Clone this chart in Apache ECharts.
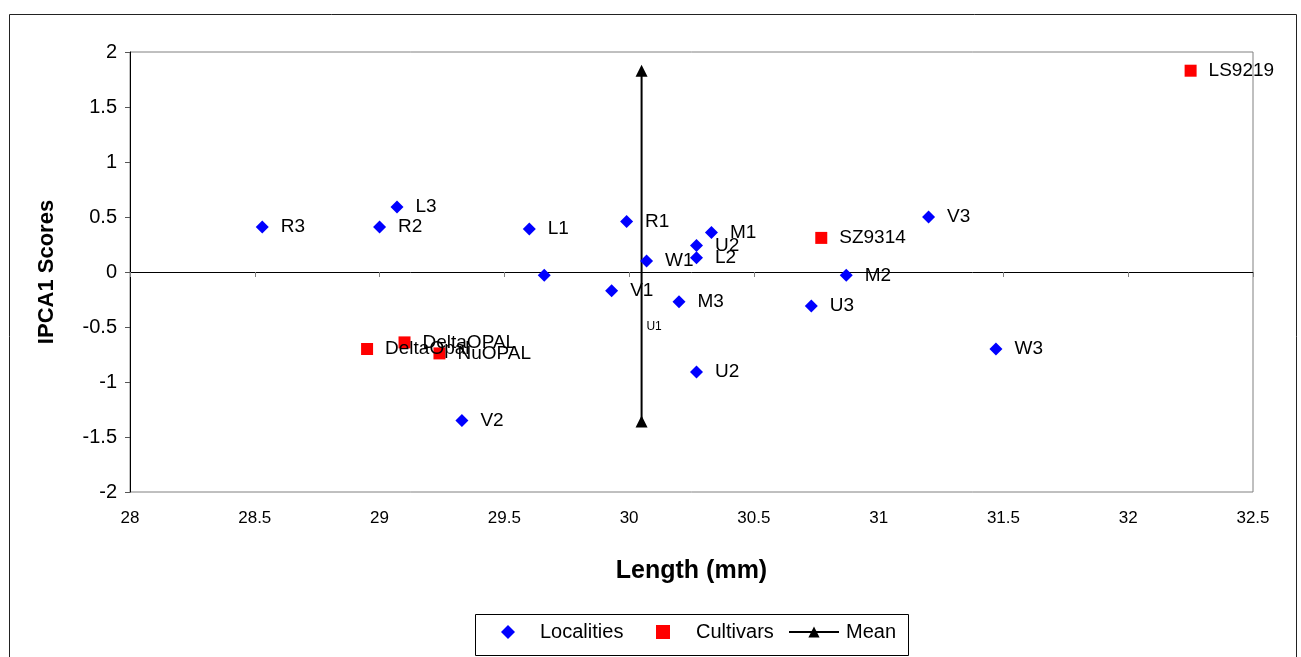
<!DOCTYPE html>
<html>
<head>
<meta charset="utf-8">
<title>IPCA1 Scores vs Length</title>
<script src="https://cdn.jsdelivr.net/npm/echarts@6/dist/echarts.min.js"></script>
<style>
  html, body { margin: 0; padding: 0; background: #fff; }
  #main { width: 1301px; height: 657px; }
</style>
</head>
<body>
<div id="main"></div>
<script>
// localities (blue diamonds)
const locNames = ['R3', 'R2', 'L3', 'L1', '', 'R1', 'V1', 'W1', 'U2', 'L2', 'M1', 'M3', 'U2', 'V2', 'U3', 'M2', 'V3', 'W3'];
const locX = [28.53, 29.00, 29.07, 29.60, 29.66, 29.99, 29.93, 30.07, 30.27, 30.27, 30.33, 30.20, 30.27, 29.33, 30.73, 30.87, 31.20, 31.47];
const locY = [0.41, 0.41, 0.59, 0.39, -0.03, 0.46, -0.17, 0.10, 0.24, 0.13, 0.36, -0.27, -0.91, -1.35, -0.31, -0.03, 0.50, -0.70];

// cultivars (red squares)
const cultNames = ['LS9219', 'SZ9314', 'DeltaOpal', 'DeltaOPAL', 'NuOPAL'];
const cultX = [32.25, 30.77, 28.95, 29.10, 29.24];
const cultY = [1.83, 0.31, -0.70, -0.64, -0.74];

// mean line
const meanX = [30.05, 30.05];
const meanY = [1.83, -1.36];

// stray label
const noteNames = ['U1'];
const noteX = [30.10];
const noteY = [-0.50];

const xTicks = { min: 28, max: 32.5, interval: 0.5 };
const yTicks = { min: -2, max: 2, interval: 0.5 };

const FONT = 'Liberation Sans';

function points(names, xs, ys) {
  return xs.map((x, i) => ({ name: names[i], value: [x, ys[i]] }));
}

const chart = echarts.init(document.getElementById('main'));

const labelStyle = {
  show: true,
  position: 'right',
  distance: 12,
  formatter: '{b}',
  color: '#000',
  fontFamily: FONT,
  fontSize: 19
};

// one legend per entry so each icon keeps its own width
function legendItem(name, left, iconW, textPad) {
  return {
    left: left,
    top: 622,
    padding: 0,
    itemWidth: iconW,
    itemHeight: 14,
    textStyle: { color: '#000', fontFamily: FONT, fontSize: 20, padding: [0, 0, 0, textPad] },
    data: [name]
  };
}

const option = {
  animation: false,
  backgroundColor: '#fff',
  graphic: [
    {
      type: 'rect',
      left: 7,
      top: 12,
      shape: { width: 1287, height: 700 },
      style: { fill: 'none', stroke: '#222', lineWidth: 1 },
      z: -1
    },
    {
      type: 'rect',
      left: 475,
      top: 614,
      shape: { width: 433, height: 41 },
      style: { fill: '#fff', stroke: '#000', lineWidth: 1 },
      z: -1
    }
  ],
  grid: {
    left: 130,
    top: 52,
    right: 48,
    bottom: 165,
    show: true,
    borderColor: '#808080',
    borderWidth: 1,
    backgroundColor: '#fff'
  },
  legend: [
    legendItem('Localities', 501, 14, 20),
    legendItem('Cultivars', 656, 14, 21),
    legendItem('Mean', 788, 50, 2)
  ],
  xAxis: [
    {
      type: 'value',
      min: xTicks.min,
      max: xTicks.max,
      interval: xTicks.interval,
      position: 'bottom',
      axisLine: { show: false, onZero: false },
      axisTick: { show: false },
      splitLine: { show: false },
      axisLabel: { color: '#000', fontFamily: FONT, fontSize: 17, margin: 18 },
      name: 'Length (mm)',
      nameLocation: 'middle',
      nameGap: 67,
      nameTextStyle: { color: '#000', fontFamily: FONT, fontSize: 25, fontWeight: 'bold' }
    },
    {
      type: 'value',
      min: xTicks.min,
      max: xTicks.max,
      interval: xTicks.interval,
      position: 'bottom',
      axisLine: { show: true, onZero: true, lineStyle: { color: '#000', width: 1 } },
      axisTick: { show: true, length: 5, lineStyle: { color: '#808080' } },
      axisLabel: { show: false },
      splitLine: { show: false }
    }
  ],
  yAxis: {
    type: 'value',
    min: yTicks.min,
    max: yTicks.max,
    interval: yTicks.interval,
    axisLine: { show: true, onZero: false, lineStyle: { color: '#000', width: 1 } },
    axisTick: { show: true, length: 5, lineStyle: { color: '#555' } },
    splitLine: { show: false },
    axisLabel: { color: '#000', fontFamily: FONT, fontSize: 20, margin: 13 },
    name: 'IPCA1 Scores',
    nameLocation: 'middle',
    nameGap: 72,
    nameTextStyle: { color: '#000', fontFamily: FONT, fontSize: 22, fontWeight: 'bold' }
  },
  series: [
    {
      name: 'Localities',
      type: 'scatter',
      symbol: 'diamond',
      symbolSize: 13,
      itemStyle: { color: '#0000ff', opacity: 1 },
      label: labelStyle,
      data: points(locNames, locX, locY),
      z: 3
    },
    {
      name: 'Cultivars',
      type: 'scatter',
      symbol: 'rect',
      symbolSize: 12,
      itemStyle: { color: '#ff0000', opacity: 1 },
      label: labelStyle,
      data: points(cultNames, cultX, cultY),
      z: 3
    },
    {
      name: 'Mean',
      type: 'line',
      symbol: 'triangle',
      symbolSize: 12,
      showSymbol: true,
      itemStyle: { color: '#000' },
      lineStyle: { color: '#000', width: 2 },
      data: meanX.map((x, i) => [x, meanY[i]]),
      z: 2
    },
    {
      name: 'note',
      type: 'scatter',
      symbolSize: 0,
      silent: true,
      itemStyle: { opacity: 1 },
      label: {
        show: true,
        position: 'inside',
        formatter: '{b}',
        color: '#000',
        fontFamily: FONT,
        fontSize: 12
      },
      data: points(noteNames, noteX, noteY)
    }
  ]
};

chart.setOption(option);
</script>
</body>
</html>
